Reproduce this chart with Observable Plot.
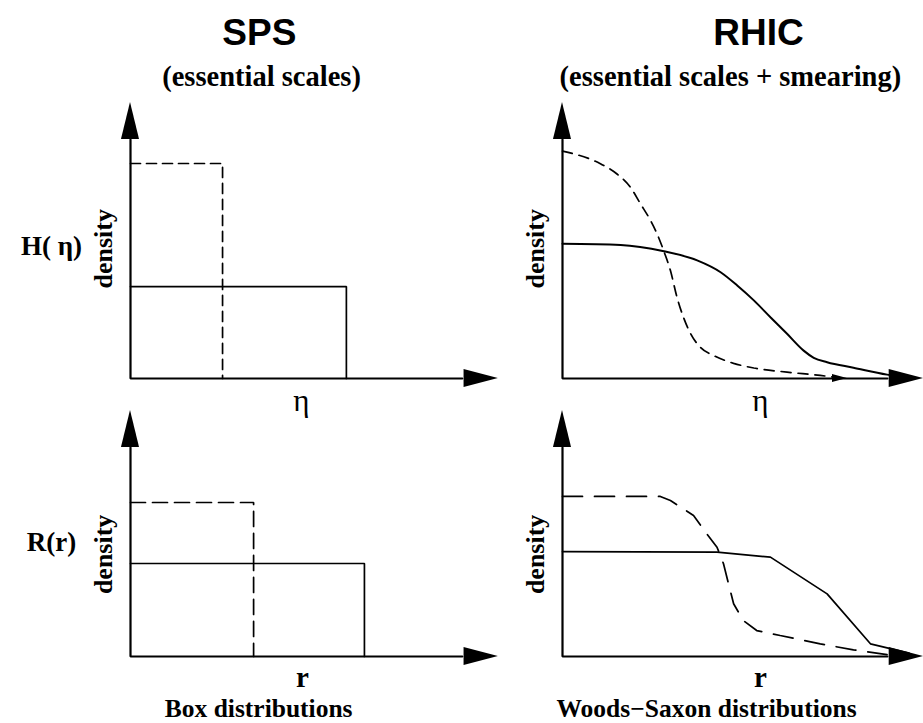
<!DOCTYPE html>
<html>
<head>
<meta charset="utf-8">
<script src="https://cdn.jsdelivr.net/npm/d3@7"></script>
<script src="https://cdn.jsdelivr.net/npm/@observablehq/plot@0.6"></script>
<style>
  html, body { margin: 0; padding: 0; background: #fff; }
  #chart { width: 923px; height: 723px; }
</style>
</head>
<body>
<div id="chart"></div>
<script>
// ---------------- data ----------------
const experiments = ["SPS", "RHIC"];
const subtitles = ["(essential scales)", "(essential scales + smearing)"];
const rows = ["H", "R"];
const rowLabels = ["H( η)", "R(r)"];
const etaLabel = ["η", "η"];
const rLabel = ["r", "r"];
const footers = ["Box distributions", "Woods\u2212Saxon distributions"];

// SPS box distributions: [extent, density]
const spsEtaNarrow = [0.255, 0.779];
const spsEtaWide   = [0.598, 0.333];
const spsRNarrow   = [0.341, 0.558];
const spsRWide     = [0.648, 0.337];

// RHIC Woods-Saxon distributions (eta): dashed = narrow, solid = wide
const rhicEtaDashedX = [0, 0.105, 0.151, 0.188, 0.216, 0.244, 0.262, 0.280, 0.299, 0.317, 0.335, 0.355, 0.382, 0.419, 0.474, 0.530, 0.622, 0.714, 0.751];
const rhicEtaDashedY = [0.824, 0.778, 0.741, 0.693, 0.633, 0.572, 0.524, 0.464, 0.391, 0.295, 0.222, 0.162, 0.113, 0.083, 0.055, 0.038, 0.023, 0.011, 0.005];
const rhicEtaSolidX  = [0, 0.161, 0.281, 0.373, 0.438, 0.484, 0.530, 0.576, 0.622, 0.668, 0.696, 0.733, 0.806, 0.899, 0.945];
const rhicEtaSolidY  = [0.488, 0.484, 0.461, 0.428, 0.385, 0.337, 0.283, 0.222, 0.162, 0.101, 0.075, 0.059, 0.039, 0.014, 0.005];

// RHIC Woods-Saxon distributions (r)
const rhicRDashedX = [0, 0.271, 0.299, 0.363, 0.400, 0.428, 0.446, 0.460, 0.474, 0.501, 0.538, 0.603, 0.714, 0.806, 0.899];
const rhicRDashedY = [0.580, 0.580, 0.565, 0.511, 0.444, 0.396, 0.336, 0.263, 0.191, 0.130, 0.094, 0.076, 0.046, 0.024, 0.007];
const rhicRSolidX  = [0, 0.428, 0.576, 0.733, 0.853, 0.960];
const rhicRSolidY  = [0.380, 0.378, 0.360, 0.227, 0.046, 0.012];

// ---------------- helpers ----------------
const pts = (xs, ys, col, row) => xs.map((x, i) => ({x, y: ys[i], col, row}));
const box = ([w, h], col, row) => [{x: 0, y: h, col, row}, {x: w, y: h, col, row}, {x: w, y: 0, col, row}];

// axis geometry (in panel units)
const panels = [
  {col: "SPS",  row: "H", xTip: 1.019, yTip: 1.0},
  {col: "RHIC", row: "H", xTip: 1.0,   yTip: 1.0},
  {col: "SPS",  row: "R", xTip: 1.019, yTip: 0.891},
  {col: "RHIC", row: "R", xTip: 1.0,   yTip: 0.891}
];
const headLenX = 0.10, headHalfX = 0.0326;   // horizontal arrow head
const headLenY = 0.134, headHalfY = 0.025;   // vertical arrow head

const axisLines = panels.flatMap((p, i) => [
  {id: i, col: p.col, row: p.row, x: 0, y: p.yTip - headLenY},
  {id: i, col: p.col, row: p.row, x: 0, y: 0},
  {id: i, col: p.col, row: p.row, x: p.xTip - headLenX, y: 0}
]);
const xHeads = panels.flatMap((p, i) => [
  {id: i, col: p.col, row: p.row, x: p.xTip - headLenX + 0.005, y1: -headHalfX, y2: headHalfX},
  {id: i, col: p.col, row: p.row, x: p.xTip, y1: 0, y2: 0}
]);
// small arrow head at the end of the dashed RHIC eta curve
xHeads.push(
  {id: 9, col: "RHIC", row: "H", x: 0.748, y1: -0.0145, y2: 0.0145},
  {id: 9, col: "RHIC", row: "H", x: 0.789, y1: 0, y2: 0}
);
const yHeads = panels.flatMap((p, i) => [
  {id: i, col: p.col, row: p.row, y: p.yTip - headLenY, x1: -headHalfY, x2: headHalfY},
  {id: i, col: p.col, row: p.row, y: p.yTip, x1: 0, x2: 0}
]);

const serif = "'Liberation Serif', 'Times New Roman', serif";
const sansNarrow = "'Liberation Sans Narrow', 'Arial Narrow', 'Liberation Sans', sans-serif";
const fc = {fx: "col", fy: "row"};

const lineOpts = (dash) => ({x: "x", y: "y", ...fc, stroke: "black", strokeWidth: 1.7, strokeDasharray: dash, strokeLinejoin: "miter"});

const chart = Plot.plot({
  width: 923,
  height: 723,
  marginLeft: 130,
  marginRight: 0,
  marginTop: 102,
  marginBottom: 67,
  style: {background: "white", overflow: "visible"},
  x: {domain: [0, 1], axis: null},
  y: {domain: [0, 1], axis: null},
  fx: {domain: experiments, axis: null, paddingInner: 0.1644, paddingOuter: 0},
  fy: {domain: rows, axis: null, paddingInner: 0.0072, paddingOuter: 0},
  marks: [
    // SPS boxes
    Plot.line(box(spsEtaWide, "SPS", "H"), lineOpts(null)),
    Plot.line(box(spsEtaNarrow, "SPS", "H"), lineOpts("10,6")),
    Plot.line(box(spsRWide, "SPS", "R"), lineOpts(null)),
    Plot.line(box(spsRNarrow, "SPS", "R"), lineOpts("15,7")),
    // RHIC Woods-Saxon
    Plot.line(pts(rhicEtaSolidX, rhicEtaSolidY, "RHIC", "H"), {...lineOpts(null), strokeWidth: 2, curve: "monotone-x"}),
    Plot.line(pts(rhicEtaDashedX, rhicEtaDashedY, "RHIC", "H"), {...lineOpts("10,7"), curve: "monotone-x"}),
    Plot.line(pts(rhicRSolidX, rhicRSolidY, "RHIC", "R"), lineOpts(null)),
    Plot.line(pts(rhicRDashedX, rhicRDashedY, "RHIC", "R"), lineOpts("20,12")),
    // axes with arrow heads
    Plot.line(axisLines, {x: "x", y: "y", z: "id", ...fc, stroke: "black", strokeWidth: 2.2, strokeLinejoin: "miter"}),
    Plot.areaY(xHeads, {x: "x", y1: "y1", y2: "y2", z: "id", ...fc, fill: "black"}),
    Plot.areaX(yHeads, {y: "y", x1: "x1", x2: "x2", z: "id", ...fc, fill: "black"}),
    // titles
    Plot.text(experiments, {fx: d => d, fy: () => "H", x: (d, i) => [0.357, 0.543][i], y: () => 1.207, text: d => d,
      fontFamily: sansNarrow, fontWeight: "bold", fontSize: 37, lineAnchor: "bottom", textAnchor: "middle", fill: "black"}),
    Plot.text(subtitles, {fx: (d, i) => experiments[i], fy: () => "H", x: (d, i) => [0.363, 0.465][i], y: () => 1.058, text: d => d,
      fontFamily: serif, fontWeight: "bold", fontSize: 28.5, lineAnchor: "bottom", textAnchor: "middle", fill: "black"}),
    // row labels
    Plot.text(rowLabels, {fx: () => "SPS", fy: (d, i) => rows[i], x: () => -0.219, y: (d, i) => [0.446, 0.384][i], text: d => d,
      fontFamily: serif, fontWeight: "bold", fontSize: 27, lineAnchor: "bottom", textAnchor: "middle", fill: "black"}),
    // density labels
    Plot.text(panels, {fx: "col", fy: "row", x: () => -0.05, y: d => d.row === "H" ? 0.47 : 0.37, text: () => "density",
      rotate: -90, fontFamily: serif, fontWeight: "bold", fontSize: 26, lineAnchor: "bottom", textAnchor: "middle", fill: "black"}),
    // axis variable labels
    Plot.text(etaLabel, {fx: (d, i) => experiments[i], fy: () => "H", x: (d, i) => [0.473, 0.548][i], y: () => -0.116,
      text: d => d, fontFamily: serif, fontSize: 31, lineAnchor: "bottom", textAnchor: "middle", fill: "black"}),
    Plot.text(rLabel, {fx: (d, i) => experiments[i], fy: () => "R", x: (d, i) => [0.476, 0.548][i], y: () => -0.112,
      text: d => d, fontFamily: serif, fontWeight: "bold", fontSize: 29, lineAnchor: "bottom", textAnchor: "middle", fill: "black"}),
    // footers
    Plot.text(footers, {fx: (d, i) => experiments[i], fy: () => "R", x: (d, i) => [0.355, 0.399][i], y: () => -0.221, text: d => d,
      fontFamily: serif, fontWeight: "bold", fontSize: 25.5, lineAnchor: "bottom", textAnchor: "middle", fill: "black"})
  ]
});
document.getElementById("chart").appendChild(chart);
</script>
</body>
</html>
